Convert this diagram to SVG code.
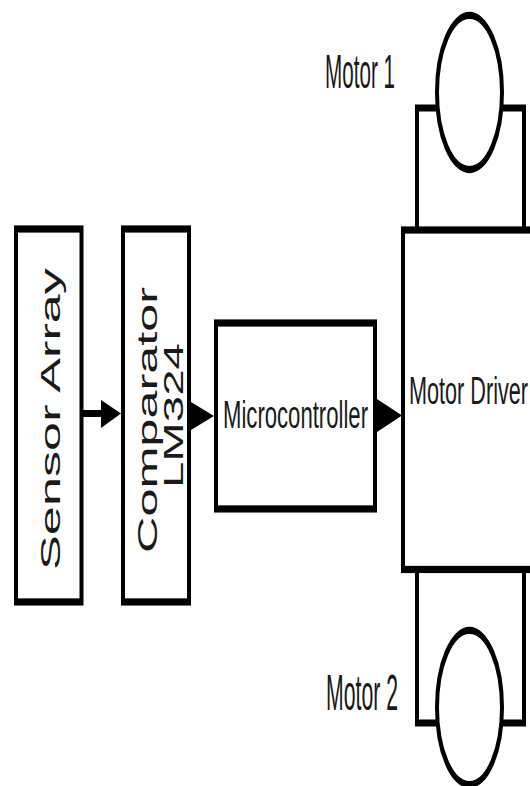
<svg xmlns="http://www.w3.org/2000/svg" width="530" height="786" viewBox="0 0 530 786">
<style>
.box{fill:#fff;stroke:#000;stroke-width:4}
.ln{fill:none;stroke:#000;stroke-width:4}
.thick{fill:none;stroke:#000;stroke-width:7}
.lbl{font-family:"Liberation Sans",Arial,sans-serif;fill:#1a1a1a}
.head{fill:#000}
</style>
<rect width="530" height="786" fill="#fff"/>
<g id="sensor-array">
<rect class="box" x="0" y="0" width="65.5" height="207.2" transform="translate(16,229) scale(1,1.8)"/>
<text class="lbl" font-size="28" text-anchor="middle" textLength="302" lengthAdjust="spacingAndGlyphs" transform="translate(60,419) rotate(-90)">Sensor Array</text>
</g>
<g id="comparator">
<rect class="box" x="0" y="0" width="66" height="207.2" transform="translate(123,229) scale(1,1.8)"/>
<text class="lbl" font-size="28" text-anchor="middle" textLength="266" lengthAdjust="spacingAndGlyphs" transform="translate(157,420) rotate(-90)">Comparator</text>
<text class="lbl" font-size="28" text-anchor="middle" textLength="145" lengthAdjust="spacingAndGlyphs" transform="translate(183,415.5) rotate(-90)">LM324</text>
</g>
<g id="microcontroller">
<rect class="box" x="0" y="0" width="159" height="103.3" transform="translate(216,323) scale(1,1.8)"/>
<text class="lbl" x="223" y="428" font-size="39" textLength="145" lengthAdjust="spacingAndGlyphs">Microcontroller</text>
</g>
<g id="motor1">
<line class="ln" x1="417" y1="105" x2="417" y2="230"/>
<line class="ln" x1="524" y1="105" x2="524" y2="230"/>
<line class="thick" x1="415" y1="108" x2="526" y2="108"/>
<ellipse class="box" cx="0" cy="0" rx="32.5" ry="42.8" transform="translate(469.5,92.5) scale(1,1.8)"/>
<text class="lbl" x="325" y="88" font-size="49" textLength="70" lengthAdjust="spacingAndGlyphs">Motor 1</text>
</g>
<g id="motor2">
<line class="ln" x1="417" y1="569" x2="417" y2="723"/>
<line class="ln" x1="524" y1="569" x2="524" y2="723"/>
<line class="thick" x1="415" y1="723" x2="526" y2="723"/>
<ellipse class="box" cx="0" cy="0" rx="32.5" ry="42.8" transform="translate(469.5,707.5) scale(1,1.8)"/>
<text class="lbl" x="326" y="710" font-size="50" textLength="72" lengthAdjust="spacingAndGlyphs">Motor 2</text>
</g>
<g id="motor-driver">
<rect class="box" x="0" y="0" width="150" height="188.6" transform="translate(403,230) scale(1,1.8)"/>
<text class="lbl" x="409" y="404" font-size="38" textLength="119" lengthAdjust="spacingAndGlyphs">Motor Driver</text>
</g>
<g id="connectors">
<line class="thick" x1="82" y1="413.5" x2="104" y2="413.5"/>
<polygon class="head" points="101,400 121,413.5 101,428"/>
<polygon class="head" points="191,402 214,416 191,430"/>
<polygon class="head" points="377,399 402,415.5 377,432"/>
</g>
</svg>
